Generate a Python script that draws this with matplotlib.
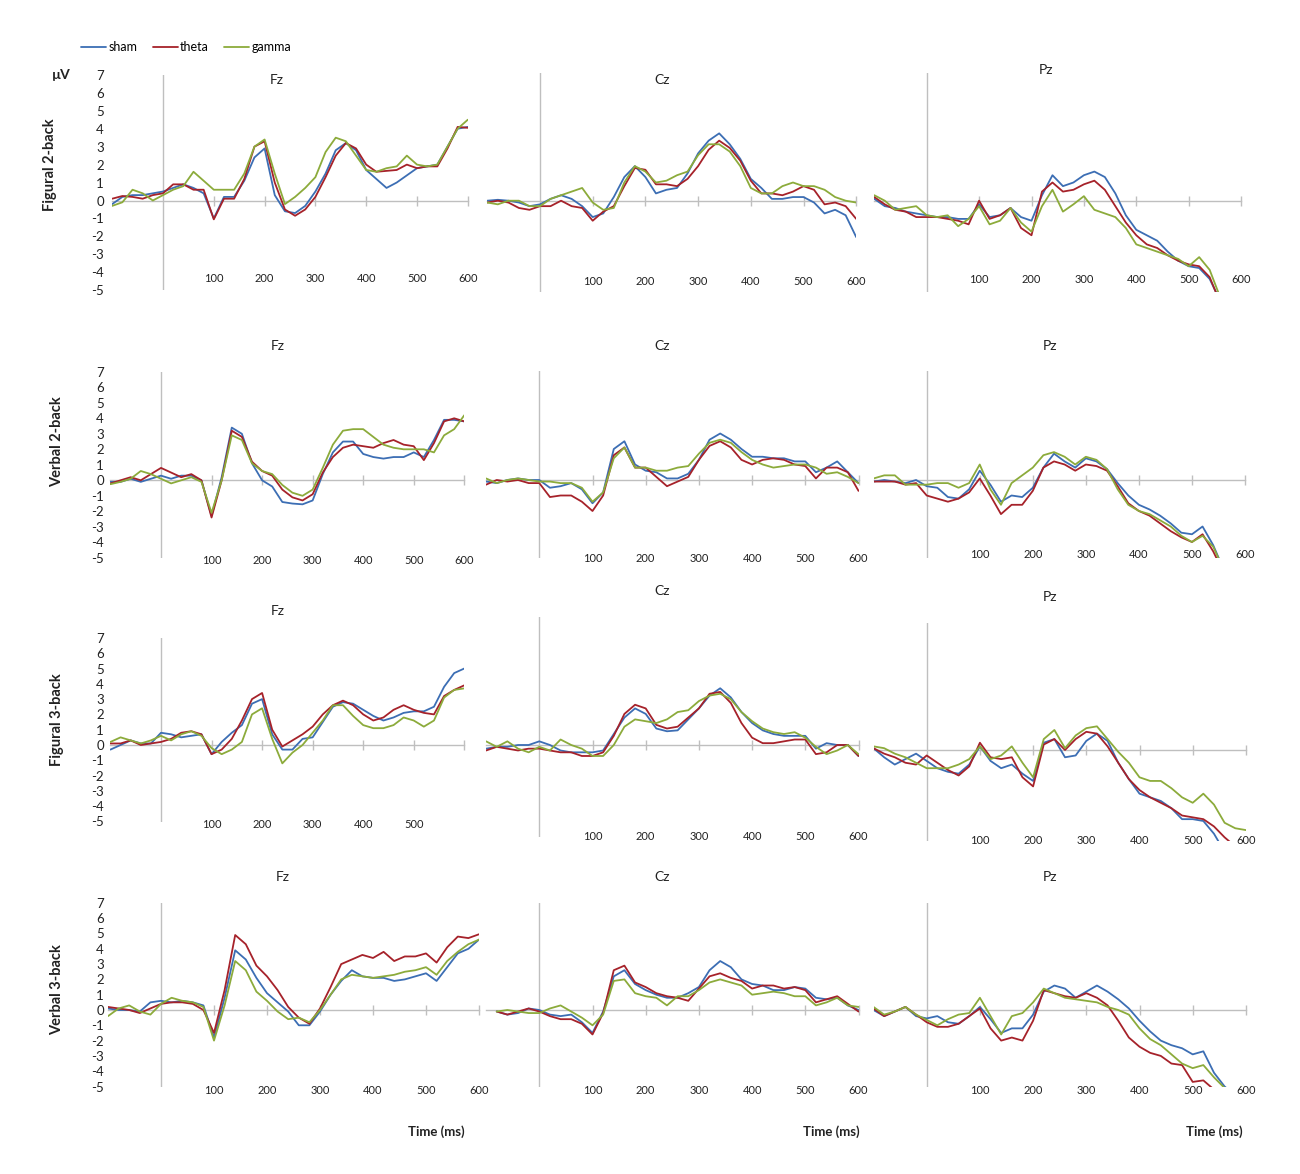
import numpy as np
import matplotlib
matplotlib.use("Agg")
import matplotlib.pyplot as plt

plt.rcParams['font.family'] = ['Lato', 'DejaVu Sans']

nan = np.nan

# zeit in ms, ein wert alle 20 ms
times = list(range(-100, 601, 20))

conditions = ["sham", "theta", "gamma"]
colors = ["#3C6EB4", "#A6222A", "#8CAB3B"]
tasks = ["Figural 2-back", "Verbal 2-back", "Figural 3-back", "Verbal 3-back"]
electrodes = ["Fz", "Cz", "Pz"]
ytick_vals = list(range(-5, 8))
xtick_vals = [100, 200, 300, 400, 500, 600]
xtick_labels_short = [100, 200, 300, 400, 500]

# Figural 2-back
f2_fz_sham = [-0.2, 0.2, 0.3, 0.3, 0.4, 0.5, 0.7, 0.9, 0.7, 0.4, -1.0, 0.2,
              0.2, 1.1, 2.4, 2.9, 0.3, -0.6, -0.7, -0.3, 0.5, 1.5, 2.8, 3.2,
              2.8, 1.7, 1.2, 0.7, 1.0, 1.4, 1.8, 1.9, 2.0, 3.0, 4.0, 4.1]
f2_fz_theta = [0.1, 0.25, 0.2, 0.1, 0.3, 0.4, 0.9, 0.9, 0.6, 0.6, -1.05, 0.1,
               0.1, 1.2, 3.0, 3.3, 1.0, -0.5, -0.85, -0.5, 0.2, 1.3, 2.5, 3.2,
               2.9, 2.0, 1.6, 1.65, 1.7, 2.0, 1.8, 1.9, 1.9, 2.9, 4.1, 4.05]
f2_fz_gamma = [-0.3, -0.1, 0.6, 0.4, 0.0, 0.3, 0.6, 0.8, 1.6, 1.1, 0.6, 0.6,
               0.6, 1.5, 3.0, 3.4, 1.5, -0.2, 0.2, 0.7, 1.3, 2.7, 3.5, 3.3,
               2.5, 1.7, 1.6, 1.8, 1.9, 2.5, 2.0, 1.9, 2.0, 3.0, 4.0, 4.5]

f2_cz_sham = [0.0, 0.05, 0.0, -0.1, -0.3, -0.2, 0.1, 0.3, 0.1, -0.3, -0.9, -0.7,
              0.2, 1.3, 1.9, 1.3, 0.4, 0.6, 0.7, 1.5, 2.6, 3.3, 3.7, 3.1,
              2.3, 1.2, 0.7, 0.1, 0.1, 0.2, 0.2, -0.1, -0.7, -0.5, -0.8, -2.0]
f2_cz_theta = [-0.1, 0.0, -0.1, -0.4, -0.5, -0.3, -0.3, 0.0, -0.3, -0.4, -1.1, -0.6,
               -0.3, 0.8, 1.8, 1.7, 0.9, 0.9, 0.8, 1.2, 1.9, 2.8, 3.3, 2.9,
               2.2, 1.1, 0.4, 0.4, 0.3, 0.5, 0.8, 0.6, -0.2, -0.1, -0.3, -1.0]
f2_cz_gamma = [-0.1, -0.2, 0.0, 0.0, -0.3, -0.3, 0.1, 0.3, 0.5, 0.7, -0.1, -0.5,
               -0.4, 1.0, 1.9, 1.6, 1.0, 1.1, 1.4, 1.6, 2.5, 3.1, 3.1, 2.7,
               1.9, 0.7, 0.4, 0.4, 0.8, 1.0, 0.8, 0.8, 0.6, 0.2, 0.0, -0.1]

f2_pz_sham = [0.1, -0.3, -0.4, -0.6, -0.7, -0.8, -0.9, -0.9, -1.0, -1.0, -0.2, -0.9,
              -0.8, -0.4, -0.9, -1.1, 0.3, 1.4, 0.8, 1.0, 1.4, 1.6, 1.3, 0.4,
              -0.8, -1.6, -1.9, -2.2, -2.8, -3.3, -3.6, -3.7, -4.3, -5.5, nan, nan]
f2_pz_theta = [0.2, -0.2, -0.5, -0.6, -0.9, -0.9, -0.9, -1.0, -1.1, -1.3, 0.0, -1.0,
               -0.8, -0.4, -1.5, -1.9, 0.5, 1.0, 0.5, 0.6, 0.9, 1.1, 0.6, -0.3,
               -1.2, -1.9, -2.4, -2.6, -3.0, -3.3, -3.5, -3.6, -4.2, -5.6, nan, nan]
f2_pz_gamma = [0.3, 0.0, -0.5, -0.4, -0.3, -0.8, -0.9, -0.8, -1.4, -1.0, -0.3, -1.3,
               -1.1, -0.4, -1.2, -1.7, -0.3, 0.6, -0.6, -0.2, 0.25, -0.5, -0.7, -0.9,
               -1.5, -2.4, -2.6, -2.8, -3.0, -3.2, -3.6, -3.1, -3.8, -5.3, nan, nan]

# Verbal 2-back
v2_fz_sham = [-0.1, -0.1, 0.1, -0.1, 0.1, 0.3, 0.1, 0.3, 0.3, 0.0, -2.3, 0.2,
              3.4, 3.0, 1.1, 0.0, -0.4, -1.4, -1.5, -1.55, -1.3, 0.4, 1.8, 2.5,
              2.5, 1.7, 1.5, 1.4, 1.5, 1.5, 1.8, 1.5, 2.6, 3.9, 3.9, 3.8]
v2_fz_theta = [-0.2, 0.0, 0.2, 0.0, 0.4, 0.8, 0.5, 0.2, 0.4, 0.0, -2.4, 0.0,
               3.2, 2.8, 1.2, 0.6, 0.3, -0.6, -1.1, -1.3, -0.9, 0.5, 1.5, 2.1,
               2.3, 2.2, 2.1, 2.4, 2.6, 2.3, 2.2, 1.3, 2.4, 3.8, 4.0, 3.8]
v2_fz_gamma = [-0.25, -0.1, 0.1, 0.6, 0.4, 0.1, -0.2, 0.0, 0.2, -0.1, -2.1, 0.0,
               2.9, 2.6, 1.1, 0.6, 0.4, -0.3, -0.8, -1.0, -0.6, 0.8, 2.3, 3.2,
               3.3, 3.3, 2.8, 2.3, 2.1, 2.0, 2.0, 2.0, 1.8, 2.9, 3.3, 4.2]

v2_cz_sham = [-0.1, -0.2, 0.0, 0.1, 0.0, 0.0, -0.5, -0.4, -0.2, -0.6, -1.5, -0.8,
              2.0, 2.5, 1.0, 0.6, 0.5, 0.1, 0.1, 0.4, 1.3, 2.6, 3.0, 2.6,
              2.0, 1.5, 1.5, 1.4, 1.4, 1.2, 1.2, 0.5, 0.8, 1.2, 0.5, -0.2]
v2_cz_theta = [-0.3, 0.0, -0.1, 0.0, -0.2, -0.2, -1.1, -1.0, -1.0, -1.4, -2.0, -1.0,
               1.6, 2.1, 0.8, 0.8, 0.2, -0.4, -0.1, 0.2, 1.3, 2.2, 2.5, 2.1,
               1.3, 1.0, 1.3, 1.4, 1.3, 1.0, 0.9, 0.1, 0.8, 0.8, 0.5, -0.7]
v2_cz_gamma = [0.1, -0.2, 0.0, 0.1, 0.0, -0.1, -0.1, -0.2, -0.2, -0.5, -1.4, -0.8,
               1.4, 2.1, 0.8, 0.8, 0.6, 0.6, 0.8, 0.9, 1.7, 2.4, 2.6, 2.4,
               1.8, 1.3, 1.0, 0.8, 0.9, 1.0, 1.0, 0.8, 0.4, 0.5, 0.2, -0.2]

v2_pz_sham = [-0.1, 0.0, -0.1, -0.2, 0.0, -0.4, -0.5, -1.1, -1.2, -0.6, 0.6, -0.3,
              -1.4, -1.0, -1.1, -0.5, 0.8, 1.7, 1.2, 0.8, 1.4, 1.2, 0.7, -0.2,
              -1.0, -1.6, -1.9, -2.3, -2.8, -3.4, -3.5, -3.0, -4.2, -5.8, nan, nan]
v2_pz_theta = [-0.1, -0.1, -0.1, -0.3, -0.2, -1.0, -1.2, -1.4, -1.2, -0.8, 0.1, -1.0,
               -2.2, -1.6, -1.6, -0.7, 0.8, 1.2, 1.0, 0.6, 1.0, 0.9, 0.6, -0.4,
               -1.5, -2.0, -2.3, -2.8, -3.3, -3.7, -4.0, -3.5, -4.6, -6.0, nan, nan]
v2_pz_gamma = [0.1, 0.3, 0.3, -0.3, -0.3, -0.3, -0.2, -0.2, -0.5, -0.2, 1.0, -0.6,
               -1.6, -0.2, 0.3, 0.8, 1.6, 1.8, 1.5, 1.0, 1.5, 1.3, 0.7, -0.6,
               -1.6, -2.0, -2.2, -2.6, -3.0, -3.6, -4.0, -3.6, -4.3, -5.8, nan, nan]

# Figural 3-back
f3_fz_sham = [-0.3, 0.0, 0.3, 0.1, 0.1, 0.8, 0.7, 0.5, 0.6, 0.7, -0.6, 0.2,
              0.8, 1.3, 2.7, 3.0, 0.7, -0.3, -0.3, 0.4, 0.5, 1.5, 2.5, 2.8,
              2.7, 2.3, 1.9, 1.6, 1.8, 2.1, 2.2, 2.2, 2.5, 3.8, 4.7, 5.0]
f3_fz_theta = [0.1, 0.1, 0.3, 0.0, 0.1, 0.2, 0.4, 0.8, 0.9, 0.7, -0.6, -0.3,
               0.4, 1.6, 3.0, 3.4, 1.0, -0.1, 0.3, 0.7, 1.2, 2.0, 2.6, 2.9,
               2.6, 2.0, 1.6, 1.8, 2.3, 2.6, 2.3, 2.1, 2.0, 3.2, 3.6, 3.9]
f3_fz_gamma = [0.2, 0.5, 0.3, 0.1, 0.3, 0.6, 0.3, 0.7, 0.9, 0.6, -0.2, -0.6,
               -0.3, 0.2, 2.0, 2.4, 0.4, -1.2, -0.5, 0.0, 0.8, 1.6, 2.6, 2.6,
               1.9, 1.3, 1.1, 1.1, 1.3, 1.8, 1.6, 1.2, 1.6, 3.1, 3.6, 3.7]

f3_cz_sham = [-0.2, -0.1, -0.1, 0.0, 0.0, 0.2, 0.0, -0.3, -0.4, -0.4, -0.4, -0.3,
              0.6, 1.5, 2.0, 1.7, 0.9, 0.75, 0.8, 1.4, 2.0, 2.7, 3.1, 2.6,
              1.8, 1.2, 0.8, 0.6, 0.5, 0.5, 0.5, -0.2, 0.1, 0.0, 0.0, -0.6]
f3_cz_theta = [-0.3, -0.1, -0.2, -0.3, -0.2, -0.2, -0.3, -0.4, -0.4, -0.6, -0.6, -0.4,
               0.5, 1.7, 2.2, 2.0, 1.1, 0.9, 1.0, 1.5, 2.0, 2.8, 2.9, 2.3,
               1.2, 0.4, 0.1, 0.1, 0.2, 0.3, 0.3, -0.5, -0.4, 0.0, 0.0, -0.6]
f3_cz_gamma = [0.2, -0.1, 0.2, -0.2, -0.4, -0.1, -0.3, 0.3, 0.0, -0.2, -0.6, -0.6,
               0.0, 1.0, 1.4, 1.3, 1.2, 1.4, 1.8, 1.9, 2.4, 2.7, 2.8, 2.5,
               1.8, 1.3, 0.9, 0.7, 0.6, 0.7, 0.4, -0.1, -0.5, -0.3, 0.0, -0.5]

f3_pz_sham = [0.1, -0.4, -0.8, -0.5, -0.2, -0.6, -1.0, -1.2, -1.3, -0.8, 0.2, -0.6,
              -1.0, -0.8, -1.3, -1.7, 0.4, 0.6, -0.4, -0.3, 0.5, 0.9, 0.5, -0.7,
              -1.6, -2.4, -2.6, -2.8, -3.2, -3.8, -3.8, -3.9, -4.6, -5.6, nan, nan]
f3_pz_theta = [0.1, -0.2, -0.4, -0.7, -0.8, -0.3, -0.7, -1.1, -1.4, -0.9, 0.4, -0.4,
               -0.5, -0.4, -1.5, -2.0, 0.3, 0.6, 0.0, 0.6, 1.0, 0.9, 0.2, -0.7,
               -1.6, -2.2, -2.6, -2.9, -3.2, -3.6, -3.7, -3.8, -4.2, -4.8, -5.3, nan]
f3_pz_gamma = [0.2, 0.1, -0.2, -0.4, -0.7, -1.0, -1.0, -1.0, -0.8, -0.5, 0.2, -0.5,
               -0.3, 0.2, -0.7, -1.5, 0.6, 1.1, 0.1, 0.8, 1.2, 1.3, 0.6, -0.1,
               -0.7, -1.5, -1.7, -1.7, -2.1, -2.6, -2.9, -2.4, -3.0, -4.0, -4.3, -4.4]

# Verbal 3-back
v3_fz_sham = [0.1, 0.0, 0.0, -0.1, 0.5, 0.6, 0.5, 0.6, 0.5, 0.3, -1.8, 0.8,
              3.9, 3.3, 2.1, 1.1, 0.5, -0.1, -1.0, -1.0, -0.1, 1.0, 1.9, 2.6,
              2.2, 2.1, 2.1, 1.9, 2.0, 2.2, 2.4, 1.9, 2.8, 3.7, 4.0, 4.6]
v3_fz_theta = [0.2, 0.1, 0.0, -0.2, 0.1, 0.4, 0.5, 0.5, 0.4, 0.0, -1.5, 1.3,
               4.9, 4.3, 2.9, 2.2, 1.3, 0.2, -0.5, -0.9, 0.1, 1.5, 3.0, 3.3,
               3.6, 3.4, 3.8, 3.2, 3.5, 3.5, 3.7, 3.1, 4.1, 4.8, 4.7, 4.95]
v3_fz_gamma = [-0.4, 0.1, 0.3, -0.1, -0.3, 0.4, 0.8, 0.6, 0.5, 0.2, -2.0, 0.3,
               3.2, 2.6, 1.2, 0.6, -0.1, -0.6, -0.5, -0.8, 0.0, 1.0, 2.0, 2.3,
               2.2, 2.1, 2.2, 2.3, 2.5, 2.6, 2.8, 2.3, 3.2, 3.8, 4.3, 4.6]

v3_cz_sham = [nan, -0.1, -0.3, -0.2, 0.1, 0.0, -0.3, -0.4, -0.3, -0.8, -1.5, -0.1,
              2.2, 2.6, 1.7, 1.3, 1.0, 0.8, 0.8, 1.1, 1.5, 2.6, 3.2, 2.8,
              2.0, 1.7, 1.6, 1.3, 1.3, 1.5, 1.4, 0.8, 0.7, 0.8, 0.3, 0.0]
v3_cz_theta = [nan, -0.1, -0.3, -0.1, 0.1, -0.1, -0.4, -0.6, -0.6, -0.9, -1.6, -0.2,
               2.6, 2.9, 1.8, 1.5, 1.1, 0.9, 0.8, 0.6, 1.4, 2.2, 2.4, 2.1,
               1.9, 1.4, 1.6, 1.6, 1.4, 1.5, 1.3, 0.5, 0.7, 0.9, 0.4, -0.1]
v3_cz_gamma = [nan, -0.1, 0.0, -0.1, -0.2, -0.2, 0.1, 0.3, -0.1, -0.5, -1.0, -0.3,
               1.9, 2.0, 1.1, 0.9, 0.8, 0.3, 0.9, 0.9, 1.3, 1.8, 2.0, 1.8,
               1.6, 1.0, 1.1, 1.2, 1.1, 0.9, 0.9, 0.3, 0.5, 0.8, 0.3, 0.2]

v3_pz_sham = [0.0, -0.4, -0.1, 0.2, -0.4, -0.55, -0.4, -0.8, -0.9, -0.4, 0.2, -0.6,
              -1.5, -1.2, -1.2, -0.3, 1.2, 1.6, 1.4, 0.8, 1.2, 1.6, 1.2, 0.7,
              0.1, -0.7, -1.4, -2.0, -2.3, -2.5, -2.9, -2.7, -4.1, -5.0, -5.6, nan]
v3_pz_theta = [0.1, -0.4, -0.1, 0.2, -0.3, -0.8, -1.1, -1.1, -0.9, -0.4, 0.1, -1.2,
               -2.0, -1.8, -2.0, -0.7, 1.3, 1.1, 0.9, 0.8, 1.1, 0.8, 0.3, -0.7,
               -1.8, -2.4, -2.8, -3.0, -3.5, -3.6, -4.7, -4.6, -5.2, nan, nan, nan]
v3_pz_gamma = [0.2, -0.3, -0.1, 0.2, -0.3, -0.65, -1.0, -0.6, -0.3, -0.2, 0.8, -0.4,
               -1.6, -0.4, -0.2, 0.5, 1.4, 1.1, 0.8, 0.7, 0.6, 0.5, 0.2, 0.0,
               -0.3, -1.2, -1.9, -2.3, -2.9, -3.5, -3.8, -3.6, -4.4, -5.1, -5.6, nan]

panel_data = [
    [(f2_fz_sham, f2_fz_theta, f2_fz_gamma), (f2_cz_sham, f2_cz_theta, f2_cz_gamma), (f2_pz_sham, f2_pz_theta, f2_pz_gamma)],
    [(v2_fz_sham, v2_fz_theta, v2_fz_gamma), (v2_cz_sham, v2_cz_theta, v2_cz_gamma), (v2_pz_sham, v2_pz_theta, v2_pz_gamma)],
    [(f3_fz_sham, f3_fz_theta, f3_fz_gamma), (f3_cz_sham, f3_cz_theta, f3_cz_gamma), (f3_pz_sham, f3_pz_theta, f3_pz_gamma)],
    [(v3_fz_sham, v3_fz_theta, v3_fz_gamma), (v3_cz_sham, v3_cz_theta, v3_cz_gamma), (v3_pz_sham, v3_pz_theta, v3_pz_gamma)],
]

# layout in pixeln: x0 = pixel von t=0, s = px pro ms, y0 = pixel von 0 uV, u = px pro uV
# laby = pixel-y der zeit-beschriftung, title = (x, y) des elektroden-titels
layout = [
    [dict(x0=163, s=0.508, y0=200.5, u=17.95, laby=278, title=(277, 80)),
     dict(x0=540, s=0.527, y0=200.7, u=18.2, laby=282, title=(662, 80)),
     dict(x0=926.7, s=0.524, y0=200.7, u=18.2, laby=280, title=(1046, 70))],
    [dict(x0=161, s=0.5055, y0=480.3, u=15.5, laby=560, title=(278, 346)),
     dict(x0=539.3, s=0.532, y0=480, u=15.5, laby=559, title=(662, 346)),
     dict(x0=926.7, s=0.5305, y0=480, u=15.5, laby=555, title=(1050, 346))],
    [dict(x0=161, s=0.5055, y0=745, u=15.3, laby=825, title=(278, 611)),
     dict(x0=539.3, s=0.532, y0=745, u=18.3, laby=837, title=(662, 591)),
     dict(x0=926.7, s=0.532, y0=750, u=18.2, laby=841, title=(1050, 597))],
    [dict(x0=161, s=0.53, y0=1010, u=15.3, laby=1091, title=(283, 877)),
     dict(x0=539.3, s=0.532, y0=1010, u=15.3, laby=1091, title=(662, 877)),
     dict(x0=926.7, s=0.532, y0=1010, u=15.3, laby=1090, title=(1050, 877))],
]
row_label_pos = [(50, 165), (57, 442), (57, 720), (57, 990)]
time_label_x = [436, 831, 1214]

W, H = 1300, 1174
gray = "#BFBFBF"
fig = plt.figure(figsize=(W / 100, H / 100), dpi=100)

handles = []
for r in range(4):
    for c in range(3):
        p = layout[r][c]
        left = p["x0"] - 100 * p["s"]
        right = p["x0"] + 600 * p["s"]
        top = p["y0"] - 7 * p["u"]
        bottom = p["y0"] + 5 * p["u"]
        ax = fig.add_axes([left / W, 1 - bottom / H, (right - left) / W, (bottom - top) / H])
        ax.set_xlim(-100, 600)
        ax.set_ylim(-5, 7)
        ax.patch.set_visible(False)
        for sp in ["top", "right", "left"]:
            ax.spines[sp].set_visible(False)
        ax.spines["bottom"].set_position(("data", 0))
        ax.spines["bottom"].set_color(gray)
        ax.spines["bottom"].set_linewidth(1.0)
        ax.axvline(0, color=gray, lw=1.0, zorder=1)
        ax.set_xticks(xtick_vals)
        ax.tick_params(axis="x", direction="inout", length=7, width=1, color=gray, labelbottom=False)
        if c == 0:
            ax.set_yticks(ytick_vals)
            ax.set_yticklabels([str(v) for v in ytick_vals])
            ax.tick_params(axis="y", length=0, pad=(left - 104) * 0.72, labelsize=9.5, labelcolor="#222222")
        else:
            ax.set_yticks([])

        labels = xtick_labels_short if (r == 2 and c == 0) else xtick_vals
        lab_v = (p["y0"] - p["laby"]) / p["u"]
        for t in labels:
            ax.text(t, lab_v, str(t), ha="center", va="center", fontsize=8, color="#222222")

        for vals, col, name in zip(panel_data[r][c], colors, conditions):
            ln, = ax.plot(times, vals, color=col, lw=1.3, zorder=3, label=name,
                          solid_joinstyle="round", solid_capstyle="round")
            if r == 0 and c == 0:
                handles.append(ln)

        tx, ty = p["title"]
        fig.text(tx / W, 1 - ty / H, electrodes[c], ha="center", va="center", fontsize=10, color="#222222")

for (x, y), name in zip(row_label_pos, tasks):
    fig.text(x / W, 1 - y / H, name, rotation=90, ha="center", va="center",
             fontsize=10.5, fontweight="bold", color="#222222")

for x in time_label_x:
    fig.text(x / W, 1 - 1132 / H, "Time (ms)", ha="center", va="center",
             fontsize=9.5, fontweight="bold", color="#222222")

fig.text(61 / W, 1 - 75 / H, "µV", ha="center", va="center", fontsize=10, fontweight="bold", color="#222222")

fig.legend(handles, conditions, loc="center left", bbox_to_anchor=(81 / W, 1 - 47 / H),
           ncol=3, frameon=False, fontsize=9, handlelength=2.0, handletextpad=0.2,
           columnspacing=1.2, borderpad=0, borderaxespad=0)

fig.savefig("out.png", dpi=100)
